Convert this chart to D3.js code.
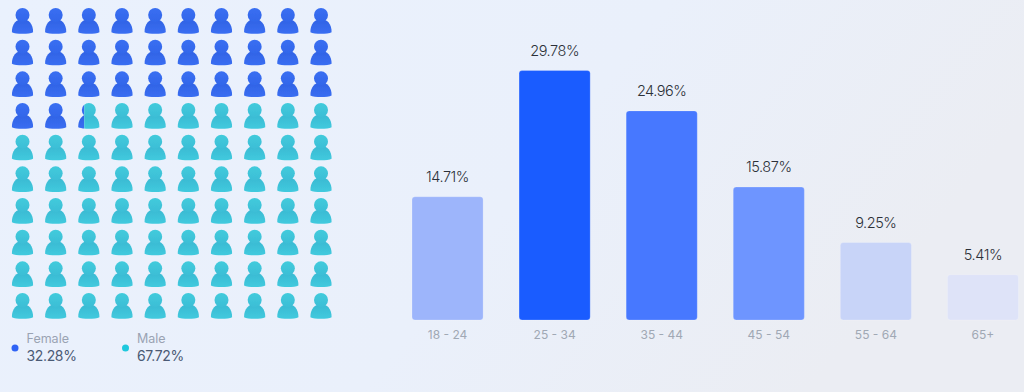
<!DOCTYPE html>
<html>
<head>
<meta charset="utf-8">
<script src="https://cdn.jsdelivr.net/npm/d3@7"></script>
<style>
html, body { margin: 0; padding: 0; }
body { width: 1024px; height: 392px; overflow: hidden; }
text { font-family: Inter, "Noto Sans", sans-serif; }
</style>
</head>
<body>
<div id="vis"></div>
<script>
// age chart data
let ageGroups = ["18 - 24", "25 - 34", "35 - 44", "45 - 54", "55 - 64", "65+"];
let agePercent = [14.71, 29.78, 24.96, 15.87, 9.25, 5.41];
let ageColors = ["#9db5fb", "#1a5cff", "#4778ff", "#6e95ff", "#c8d4f8", "#dee3f8"];

// gender data
let genders = ["Female", "Male"];
let genderPercent = [32.28, 67.72];
let genderColors = ["#2f63f5", "#1fc8dd"];

let width = 1024, height = 392;

let svg = d3.select("#vis").append("svg")
    .attr("width", width)
    .attr("height", height)
    .style("display", "block");

let defs = svg.append("defs");

let bg = defs.append("linearGradient").attr("id", "bg")
    .attr("x1", "0").attr("y1", "0").attr("x2", "1").attr("y2", "0.3");
bg.append("stop").attr("offset", "0").attr("stop-color", "#eaf1fd");
bg.append("stop").attr("offset", "0.6").attr("stop-color", "#eaf0fb");
bg.append("stop").attr("offset", "1").attr("stop-color", "#ebedf3");

svg.append("rect").attr("width", width).attr("height", height).attr("fill", "url(#bg)");

// slight softening, the icons are not crisp in the original
defs.append("filter").attr("id", "soft")
    .append("feGaussianBlur").attr("stdDeviation", 0.35);

// person icon gradients
function iconGradient(id, top, bottom) {
    let g = defs.append("linearGradient").attr("id", id)
        .attr("x1", "0").attr("y1", "0").attr("x2", "0").attr("y2", "1");
    g.append("stop").attr("offset", "0").attr("stop-color", top);
    g.append("stop").attr("offset", "1").attr("stop-color", bottom);
}
iconGradient("headF", "#3a6ff2", "#3266ea");
iconGradient("bodyF", "#3062e4", "#3a6ef2");
iconGradient("headM", "#42cbdc", "#3cbed6");
iconGradient("bodyM", "#39b9d2", "#41cade");

/* * * * * * * * * * * * * *
*        ICON GRID         *
* * * * * * * * * * * * * */
let cols = d3.range(10), rows = d3.range(10);

let iconX = d3.scalePoint().domain(cols).range([22.5, 321]);
let iconY = d3.scalePoint().domain(rows).range([8, 293]);

// icon is drawn around x=0, with y=0 at top of head
function drawPerson(g, kind) {
    g.append("path")
        .attr("d", "M-10.6,24.2 C-10.8,16 -6,11 0,11 C6,11 10.8,16 10.6,24.2 C7,26.2 -7,26.2 -10.6,24.2 Z")
        .attr("fill", "url(#body" + kind + ")");
    g.append("circle")
        .attr("cx", 0).attr("cy", 7).attr("r", 7)
        .attr("fill", "url(#head" + kind + ")");
}

let femaleCount = genderPercent[0];

let cells = [];
rows.forEach(function(r) {
    cols.forEach(function(c) {
        cells.push({row: r, col: c, index: r * 10 + c});
    });
});

let icons = svg.append("g").attr("class", "icons")
    .attr("filter", "url(#soft)")
    .selectAll("g")
    .data(cells)
    .enter()
    .append("g")
    .attr("transform", function(d) { return "translate(" + iconX(d.col) + "," + iconY(d.row) + ")"; });

icons.each(function(d) {
    let g = d3.select(this);
    let share = femaleCount - d.index;
    if (share >= 1) {
        drawPerson(g, "F");
    } else if (share <= 0) {
        drawPerson(g, "M");
    } else {
        // split icon, part female part male
        let splitX = -10.5 + 21 * share;
        defs.append("clipPath").attr("id", "clipF")
            .append("rect").attr("x", -11).attr("y", -1).attr("width", splitX + 11).attr("height", 29);
        defs.append("clipPath").attr("id", "clipM")
            .append("rect").attr("x", splitX).attr("y", -1).attr("width", 11 - splitX).attr("height", 29);
        let left = g.append("g").attr("clip-path", "url(#clipF)");
        drawPerson(left, "F");
        let right = g.append("g").attr("clip-path", "url(#clipM)");
        drawPerson(right, "M");
    }
});

// legend
let legendX = d3.scaleOrdinal().domain(genders).range([15, 125.5]);

let legend = svg.append("g").attr("class", "legend")
    .selectAll("g")
    .data(genders)
    .enter()
    .append("g")
    .attr("transform", function(d) { return "translate(" + legendX(d) + ",348)"; });

legend.append("circle")
    .attr("r", 3.5)
    .attr("fill", function(d, i) { return genderColors[i]; });

legend.append("text")
    .attr("x", 11.5)
    .attr("y", -5.5)
    .attr("font-size", 12.5)
    .attr("fill", "#9aa3b3")
    .text(function(d) { return d; });

legend.append("text")
    .attr("x", 11.5)
    .attr("y", 13)
    .attr("font-size", 14)
    .attr("letter-spacing", -0.35)
    .attr("fill", "#4a5a75")
    .text(function(d, i) { return genderPercent[i].toFixed(2) + "%"; });

/* * * * * * * * * * * * * *
*         BAR CHART        *
* * * * * * * * * * * * * */
let barBottom = 320, barTop = 70.5;

let x = d3.scaleBand()
    .domain(ageGroups)
    .range([412, 1018.5])
    .paddingInner(0.336)
    .paddingOuter(0);

let y = d3.scaleLinear()
    .domain([0, d3.max(agePercent)])
    .range([barBottom, barTop]);

let bars = svg.append("g").attr("class", "bars")
    .selectAll("g")
    .data(ageGroups)
    .enter()
    .append("g");

bars.append("rect")
    .attr("x", function(d) { return x(d); })
    .attr("y", function(d, i) { return y(agePercent[i]); })
    .attr("width", x.bandwidth())
    .attr("height", function(d, i) { return barBottom - y(agePercent[i]); })
    .attr("rx", 3)
    .attr("fill", function(d, i) { return ageColors[i]; })
    .attr("stroke", "#ffffff")
    .attr("stroke-opacity", 0.2);

bars.append("text")
    .attr("x", function(d) { return x(d) + x.bandwidth() / 2; })
    .attr("y", function(d, i) { return y(agePercent[i]) - 15; })
    .attr("text-anchor", "middle")
    .attr("font-size", 14.5)
    .attr("font-weight", 300)
    .attr("letter-spacing", -0.45)
    .attr("fill", "#2c3038")
    .text(function(d, i) { return agePercent[i].toFixed(2) + "%"; });

let xAxis = d3.axisBottom(x).tickSize(0).tickPadding(10);

let xAxisGroup = svg.append("g")
    .attr("class", "x-axis axis")
    .attr("transform", "translate(0," + barBottom + ")")
    .call(xAxis);

xAxisGroup.select(".domain").remove();
xAxisGroup.selectAll("text")
    .attr("font-size", 12)
    .attr("fill", "#a0a8b4")
    .style("font-family", "Inter, 'Noto Sans', sans-serif");
</script>
</body>
</html>
